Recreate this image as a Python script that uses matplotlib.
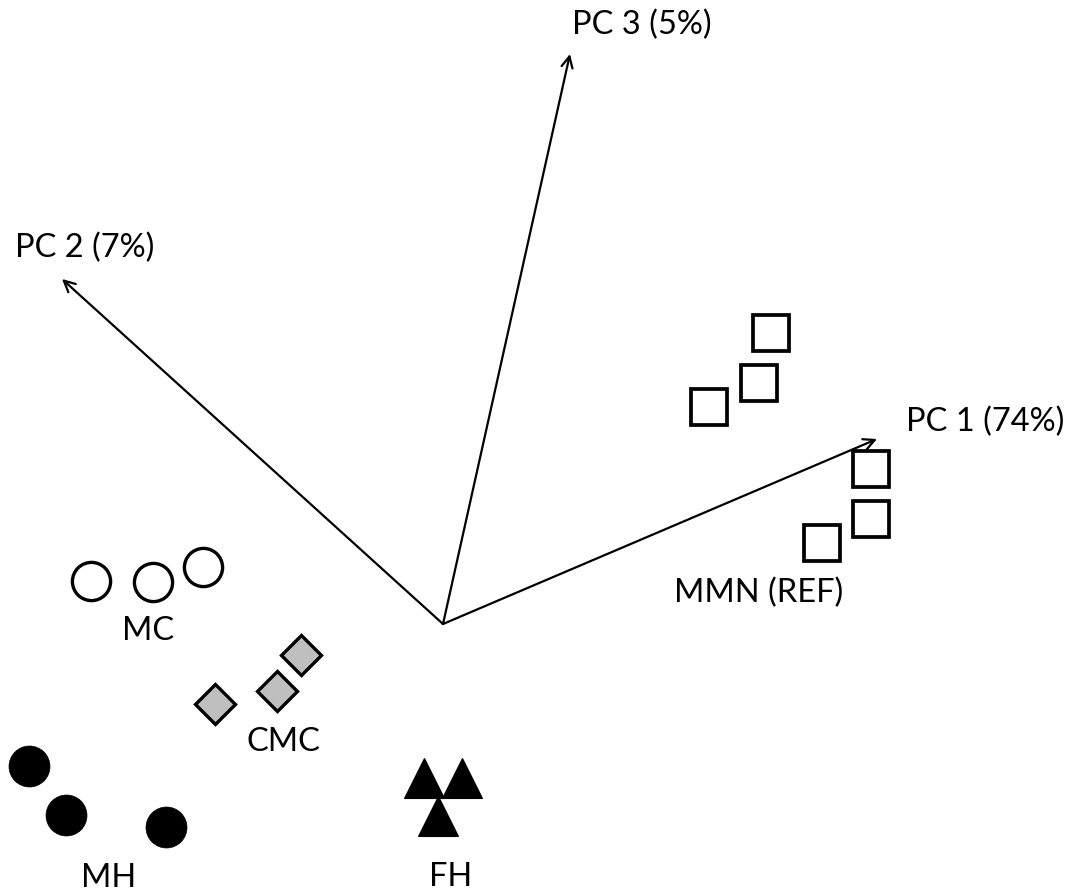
import matplotlib
matplotlib.use('Agg')
import matplotlib.pyplot as plt

plt.rcParams['font.family'] = ['Lato', 'DejaVu Sans']

# scores of the samples on PC1 / PC2 plane (projected)
mmn_x = [328, 316, 266, 428, 428, 379]
mmn_y = [291, 241, 217, 155, 105, 81]
mc_x = [-352, -290, -240]
mc_y = [43, 42, 57]
cmc_x = [-228, -166, -142]
cmc_y = [-80, -67, -31]
mh_x = [-414, -377, -277]
mh_y = [-142, -191, -203]
fh_x = [-19, 19, -5]
fh_y = [-154, -154, -192]

# loading vectors
pc_names = ['PC 1 (74%)', 'PC 2 (7%)', 'PC 3 (5%)']
pc_x = [434, -381, 127]
pc_y = [185, 345, 570]

fig, ax = plt.subplots(figsize=(10.71, 8.95), dpi=100)
fig.subplots_adjust(0, 0, 1, 1)
ax.set_xlim(-443, 628)
ax.set_ylim(-270, 625)
ax.axis('off')

for dx, dy in zip(pc_x, pc_y):
    ax.annotate('', xy=(dx, dy), xytext=(0, 0),
                arrowprops=dict(arrowstyle='->', lw=1.6, color='black',
                                mutation_scale=20, shrinkA=0, shrinkB=0))

ax.plot(mmn_x, mmn_y, 's', ms=26.5, mfc='white', mec='black', mew=2.7, ls='none')
ax.plot(mc_x, mc_y, 'o', ms=27.5, mfc='white', mec='black', mew=2.4, ls='none')
ax.plot(cmc_x, cmc_y, 'D', ms=20, mfc='#bfbfbf', mec='black', mew=2.4, ls='none')
ax.plot(mh_x, mh_y, 'o', ms=29.5, mfc='black', mec='black', mew=0.5, ls='none')
ax.plot(fh_x, fh_y, '^', ms=29, mfc='black', mec='black', mew=0.8, ls='none')

fs = 23.5
ax.text(542, 203, pc_names[0], fontsize=fs, ha='center', va='center')
ax.text(-358, 377, pc_names[1], fontsize=fs, ha='center', va='center')
ax.text(199, 600, pc_names[2], fontsize=fs, ha='center', va='center')
ax.text(316, 32, 'MMN (REF)', fontsize=fs, ha='center', va='center')
ax.text(-295, -6, 'MC', fontsize=fs, ha='center', va='center')
ax.text(-160, -117, 'CMC', fontsize=fs, ha='center', va='center')
ax.text(-334, -253, 'MH', fontsize=fs, ha='center', va='center')
ax.text(8, -252, 'FH', fontsize=fs, ha='center', va='center')

plt.savefig('out.png', dpi=100)
